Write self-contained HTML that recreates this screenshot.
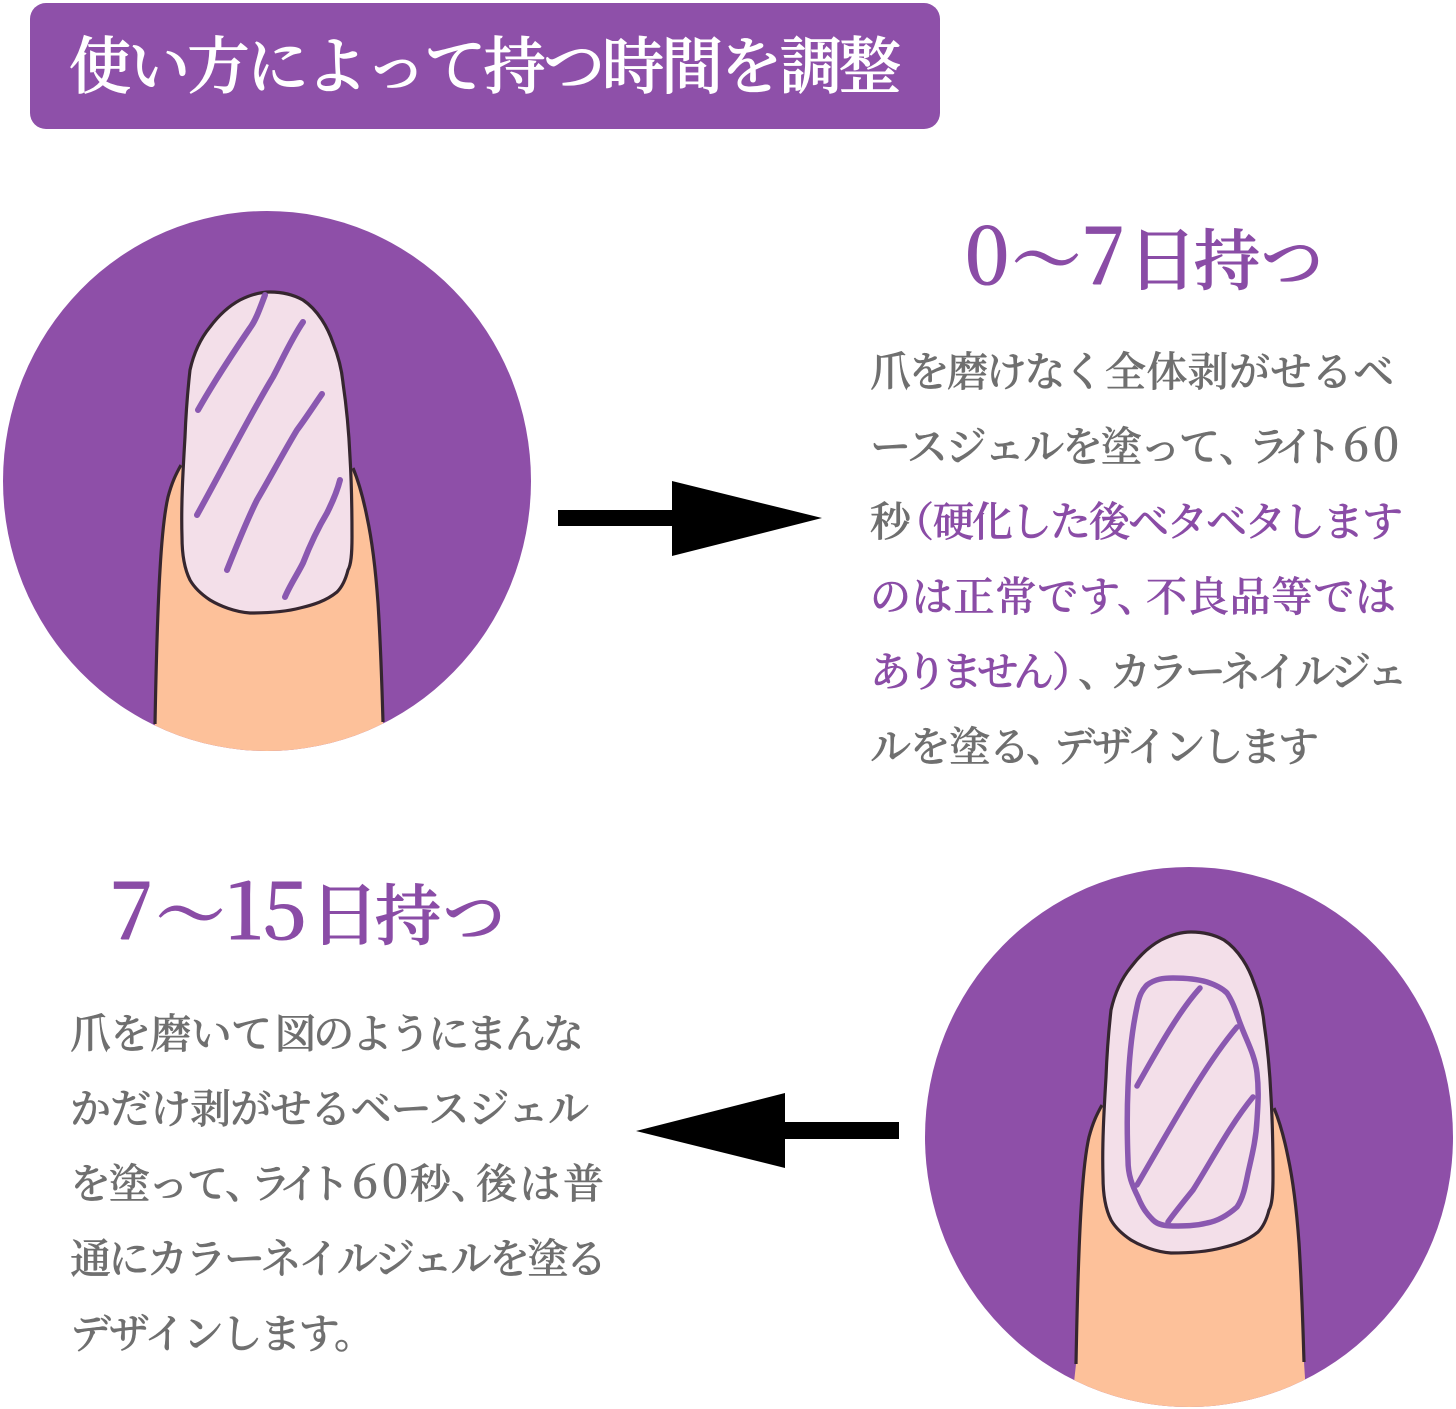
<!DOCTYPE html>
<html lang="ja"><head><meta charset="utf-8"><title>使い方によって持つ時間を調整</title>
<style>
html,body{margin:0;padding:0;background:#fff}
svg{display:block}
text{font-family:"Noto Serif CJK JP","Noto Serif CJK SC","Liberation Serif",serif}
.b{font-size:41px;fill:#6f6f6f;stroke:#6f6f6f;stroke-width:.6;font-weight:500}
.d{font-size:46px}
.p{fill:#8a4ca6;stroke:#8a4ca6}
.h{font-size:69px;fill:#8a4ca6;stroke:#8a4ca6;stroke-width:1.1;font-weight:500}
.hd{font-size:78px}
.k{font-size:66px}
.n{font-size:62px}
.t{font-size:62px;fill:#fff;stroke:#fff;stroke-width:1;font-weight:500}
</style></head><body>
<svg width="1456" height="1409" viewBox="0 0 1456 1409" xmlns="http://www.w3.org/2000/svg">
<defs>
<clipPath id="c1"><ellipse cx="267" cy="481" rx="264" ry="270"/></clipPath>
<clipPath id="c2"><ellipse cx="1189" cy="1137" rx="264" ry="270"/></clipPath>
<g id="fing">
<path d="M150 770 L155 724 C156 670 157 620 160 570 C162 535 165 510 168 497 C172 482 176 474 181 465 L353 468 C360 485 364 502 367 517 C373 545 376 575 378 603 C381 650 382 690 383 722 L386 770 Z" fill="#fdc19a"/>
<path d="M155 724 C156 670 157 620 160 570 C162 535 165 510 168 497 C172 482 176 474 181 465 M353 468 C360 485 364 502 367 517 C373 545 376 575 378 603 C381 650 382 690 383 722" fill="none" stroke="#35262f" stroke-width="3.2"/>
<path d="M270 292 C284 292 294 295 303 300 C318 310 328 328 333 343 C339 358 342 372 343 383 C347 410 349 435 350 457 C352 490 352 515 352 537 C352 555 351 565 348 570 C345 582 341 588 337 592 C326 601 313 605 300 608 C285 612 265 613 250 613 C235 612 220 606 210 600 C201 594 194 587 190 580 C184 568 182 552 182 537 C181 505 183 470 185 437 C186 410 188 388 190 370 C194 352 201 338 210 327 C219 315 229 306 240 300 C250 295 260 292 270 292 Z" fill="#f3dfe9" stroke="#35262f" stroke-width="3.2"/>
</g>
</defs>

<rect x="30" y="3" width="910" height="126" rx="16" fill="#8e50a9"/>
<text class="t" x="69" y="88" textLength="832">使い方によって持つ時間を調整</text>

<ellipse cx="267" cy="481" rx="264" ry="270" fill="#8e4fa8"/>
<g clip-path="url(#c1)"><use href="#fing"/></g>
<g fill="none" stroke="#8a58b0" stroke-width="6" stroke-linecap="round" stroke-linejoin="round">
<path d="M265 295 C260 308 256 320 250 328 C235 350 215 380 198 410"/>
<path d="M303 322 C292 338 283 358 273 377 C250 415 222 470 197 515"/>
<path d="M322 394 C315 404 306 418 297 430 C282 455 270 478 257 500 C246 522 235 550 227 570"/>
<path d="M340 480 C337 492 332 503 327 513 C318 528 310 545 303 563 C297 575 290 585 285 597"/>
</g>

<ellipse cx="1189" cy="1137" rx="264" ry="270" fill="#8e4fa8"/>
<g clip-path="url(#c2)"><use href="#fing" transform="translate(921 640)"/></g>
<g fill="none" stroke="#8a58b0" stroke-width="5.5" stroke-linecap="round" stroke-linejoin="round">
<path d="M1147 985 C1155 979 1163 978 1173 978 C1187 978 1197 979 1207 982 C1216 985 1222 988 1227 993 C1233 1002 1236 1012 1240 1023 C1247 1042 1255 1055 1257 1073 C1259 1090 1258 1105 1257 1120 C1256 1140 1252 1155 1248 1173 C1245 1188 1243 1198 1237 1207 C1228 1215 1218 1221 1207 1223 C1195 1226 1185 1226 1173 1226 C1165 1226 1158 1225 1153 1220 C1146 1213 1142 1207 1138 1197 C1132 1185 1128 1175 1128 1160 C1127 1135 1127 1110 1128 1087 C1129 1060 1132 1030 1137 1007 C1139 996 1142 990 1147 985 Z"/>
<path d="M1200 988 C1180 1010 1160 1045 1137 1086"/>
<path d="M1237 1027 C1205 1065 1175 1120 1137 1185"/>
<path d="M1253 1097 C1230 1125 1212 1160 1193 1190 C1185 1200 1175 1212 1168 1222"/>
</g>

<rect x="558" y="510" width="120" height="16" fill="#000"/>
<polygon points="672,481 822,518 672,556" fill="#000"/>
<rect x="780" y="1122" width="119" height="17" fill="#000"/>
<polygon points="785,1093 636,1131 785,1168" fill="#000"/>

<text class="h" y="284"><tspan class="hd" x="965">0</tspan><tspan x="1012">～</tspan><tspan class="hd" x="1082">7</tspan><tspan x="1128">日</tspan><tspan class="k" x="1194">持</tspan><tspan class="n" x="1261">つ</tspan></text>
<text class="b" x="870" y="386" textLength="234">爪を磨けなく</text>
<text class="b" x="1105" y="386" textLength="289">全体剥がせるベ</text>
<text class="b" x="870" y="461" textLength="350">ースジェルを塗って</text>
<text class="b" x="1219" y="461">、</text>
<text class="b" x="1248" y="461" textLength="94">ライト</text>
<text class="b d" x="1343" y="461" textLength="56">60</text>
<text class="b" x="870" y="536">秒</text>
<text class="b p" x="893" y="536">（</text>
<text class="b p" x="933" y="536" textLength="470">硬化した後ベタベタします</text>
<text class="b p" x="870" y="611" textLength="250">のは正常です</text>
<text class="b p" x="1117" y="611">、</text>
<text class="b p" x="1146" y="611" textLength="250">不良品等では</text>
<text class="b p" x="870" y="686" textLength="184">ありません</text>
<text class="b p" x="1052" y="686">）</text>
<text class="b" x="1078" y="686">、</text>
<text class="b" x="1110" y="686" textLength="298">カラーネイルジェ</text>
<text class="b" x="870" y="761" textLength="160">ルを塗る</text>
<text class="b" x="1026" y="761">、</text>
<text class="b" x="1054" y="761" textLength="265">デザインします</text>

<text class="h" y="939"><tspan class="hd" x="110">7</tspan><tspan x="156">～</tspan><tspan class="hd" x="226">15</tspan><tspan x="310">日</tspan><tspan class="k" x="375">持</tspan><tspan class="n" x="443">つ</tspan></text>
<text class="b" x="70" y="1048" textLength="202">爪を磨いて</text>
<text class="b" x="275" y="1048" textLength="309">図のようにまんな</text>
<text class="b" x="70" y="1123" textLength="519">かだけ剥がせるベースジェル</text>
<text class="b" x="70" y="1198" textLength="158">を塗って</text>
<text class="b" x="225" y="1198">、</text>
<text class="b" x="250" y="1198" textLength="100">ライト</text>
<text class="b d" x="352" y="1198" textLength="56">60</text>
<text class="b" x="410" y="1198">秒、</text>
<text class="b" x="476" y="1198" textLength="128">後は普</text>
<text class="b" x="70" y="1273" textLength="537">通にカラーネイルジェルを塗る</text>
<text class="b" x="70" y="1348" textLength="305">デザインします。</text>
</svg>
</body></html>
